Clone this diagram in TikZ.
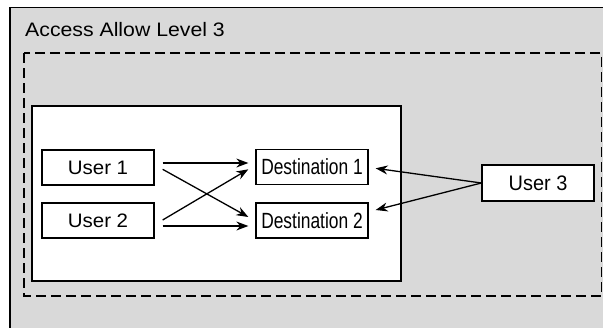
\documentclass[tikz,border=0pt]{standalone}
\usepackage{fontspec}
\setmainfont{Liberation Sans}
\usetikzlibrary{arrows.meta}
\definecolor{bggray}{HTML}{D9D9D9}
\newcommand\fsz[2]{\fontsize{#1}{#2}\selectfont}
\begin{document}
\begin{tikzpicture}[x=1pt,y=-1pt,
  box/.style={draw=black,fill=white,line width=1.3pt,inner sep=0pt,anchor=center},
  conn/.style={line width=1.3pt,-{Stealth[length=12pt,width=9pt]}}]
\useasboundingbox (0,0) rectangle (603,327);
\begin{scope}
\clip (0,0) rectangle (603,327);
\draw[fill=bggray,line width=1.3pt] (10,7.5) rectangle (615,340);
\end{scope}
\node[anchor=base west,inner sep=0pt] (title) at (25,36) {\fsz{19.5}{22}\scalebox{1.09}[1]{Access Allow Level 3}};
\draw[line width=1.3pt,dash pattern=on 10pt off 5pt] (24,53) rectangle (601.5,296);
\draw[fill=white,line width=1.3pt] (32,106) rectangle (401,281);
\node[box,minimum width=112pt,minimum height=35pt] (u1) at (98,167.5) {\fsz{19.5}{22}\scalebox{1.05}[1]{User 1}};
\node[box,minimum width=112pt,minimum height=35pt] (u2) at (98,220.5) {\fsz{19.5}{22}\scalebox{1.05}[1]{User 2}};
\node[box,minimum width=112pt,minimum height=35pt] (d1) at (312,167) {\fsz{22}{25}\scalebox{0.79}[1]{Destination 1}};
\node[box,minimum width=112pt,minimum height=35pt] (d2) at (312,220.5) {\fsz{22}{25}\scalebox{0.79}[1]{Destination 2}};
\node[box,minimum width=112pt,minimum height=36pt] (u3) at (538,183) {\fsz{21}{24}\scalebox{0.95}[1]{User 3}};
\draw[conn] ([shift={(8,-4.5)}]u1.east) -- ([shift={(-7,-4)}]d1.west);
\draw[conn] ([shift={(8,1.8)}]u1.east) -- ([shift={(-7,-3.5)}]d2.west);
\draw[conn] ([shift={(8,-0.5)}]u2.east) -- ([shift={(-7,2.3)}]d1.west);
\draw[conn] ([shift={(8,5.5)}]u2.east) -- ([shift={(-7,5.5)}]d2.west);
\draw[conn] (u3.west) -- ([shift={(7,1.3)}]d1.east);
\draw[conn] (u3.west) -- ([shift={(7,-10.5)}]d2.east);
\end{tikzpicture}
\end{document}
